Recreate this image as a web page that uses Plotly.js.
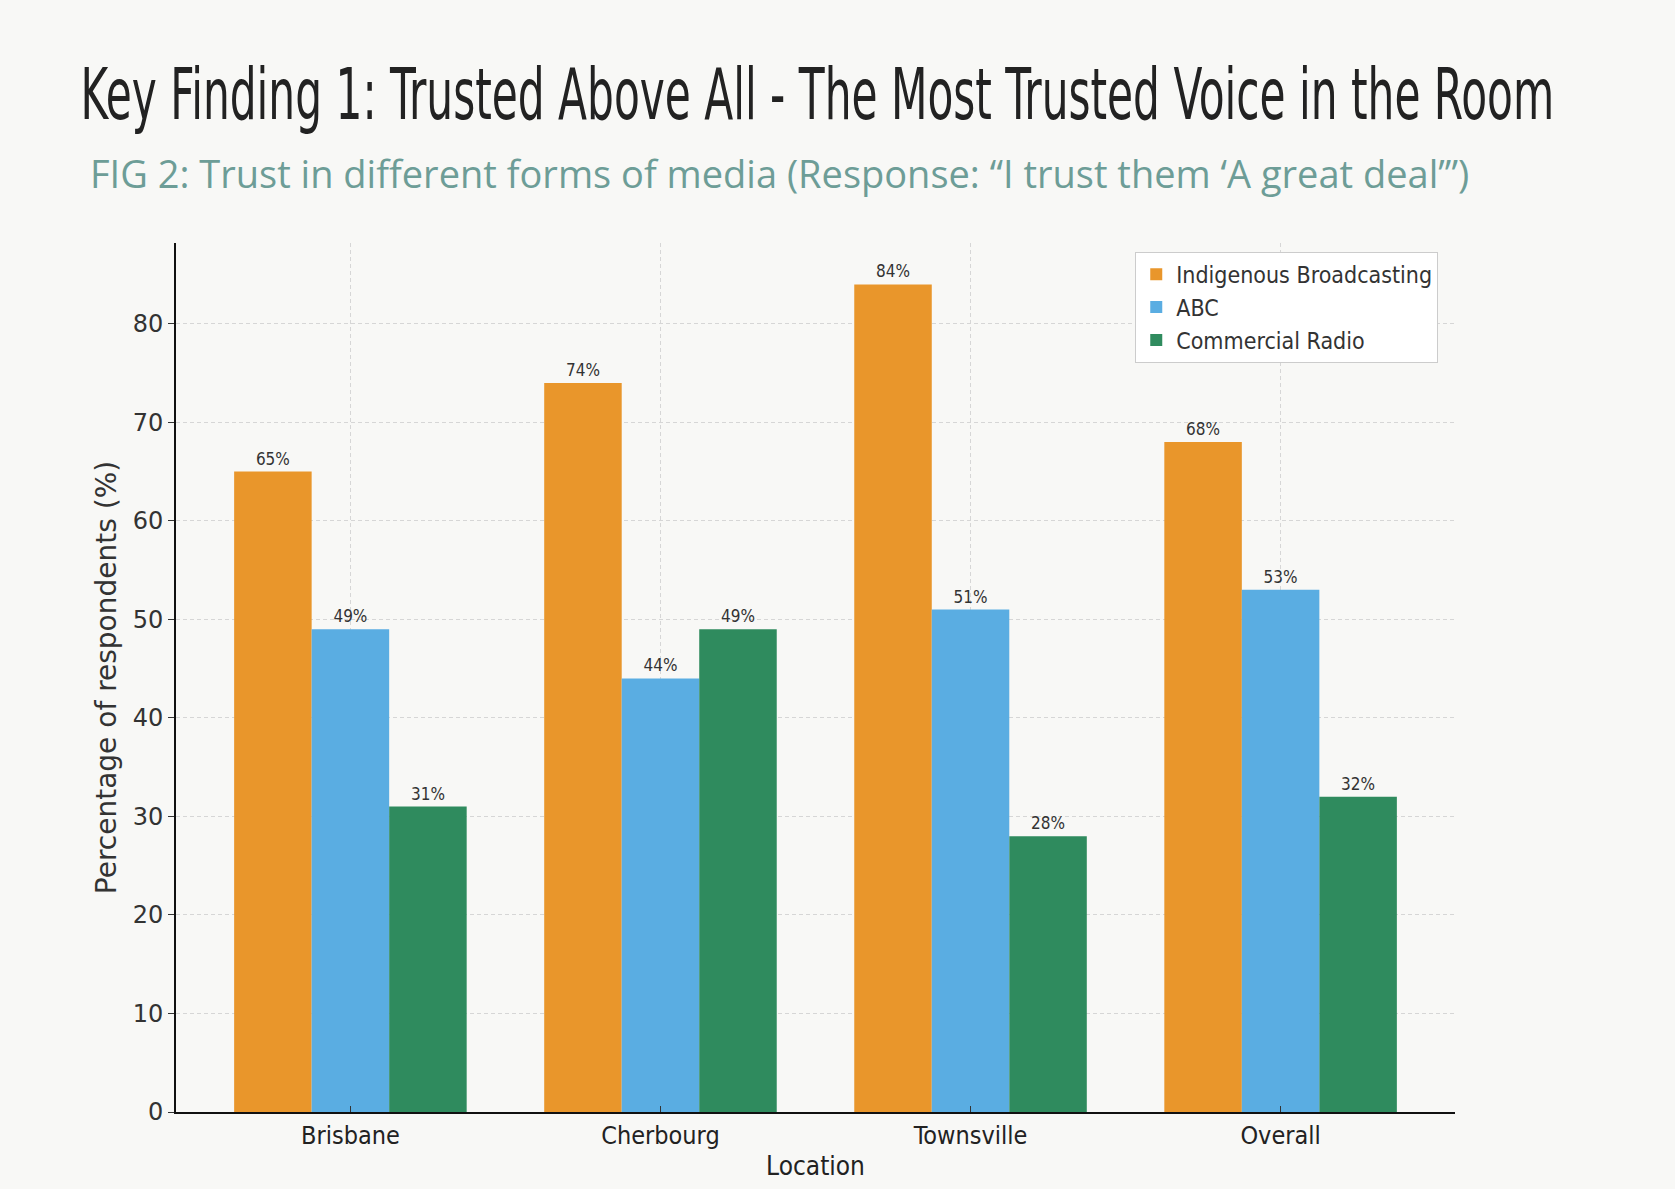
<!DOCTYPE html>
<html>
<head>
<meta charset="utf-8">
<script src="https://cdn.plot.ly/plotly-3.0.1.min.js"></script>
<style>
  html, body { margin: 0; padding: 0; background: #f8f8f6; }
  #chart { width: 1675px; height: 1189px; }
</style>
</head>
<body>
<div id="chart"></div>
<script>
// values
const locations = ["Brisbane", "Cherbourg", "Townsville", "Overall"];
const indigenous = [65, 74, 84, 68];
const abc = [49, 44, 51, 53];
const commercial = [31, 49, 28, 32];
const yTicks = [0, 10, 20, 30, 40, 50, 60, 70, 80];

const labelFont = { family: "DejaVu Sans Condensed, DejaVu Sans", size: 17, color: "#333" };

function series(name, values, color) {
  return {
    type: "bar",
    name: name,
    x: locations,
    y: values,
    marker: { color: color },
    text: values.map(v => v + "%"),
    textposition: "outside",
    textfont: labelFont,
    cliponaxis: false,
    hoverinfo: "skip"
  };
}

const traces = [
  series("Indigenous Broadcasting", indigenous, "#e9962b"),
  series("ABC", abc, "#5aade2"),
  series("Commercial Radio", commercial, "#2f8b5e")
];

const layout = {
  width: 1675,
  height: 1189,
  paper_bgcolor: "#f8f8f6",
  plot_bgcolor: "#f8f8f6",
  margin: { l: 176, r: 220, t: 243, b: 77 },
  barmode: "group",
  bargap: 0.25,
  bargroupgap: 0,
  showlegend: true,
  title: {
    text: "Key Finding 1: Trusted Above All - The Most Trusted Voice in the Room",
    font: { family: "DejaVu Sans Condensed, DejaVu Sans", size: 72, color: "#222" },
    xref: "container", x: 0.048, xanchor: "left",
    yref: "container", y: 0.921, yanchor: "middle"
  },
  annotations: [{
    text: "FIG 2: Trust in different forms of media (Response: \u201cI trust them \u2018A great deal\u2019\u201d)",
    xref: "paper", yref: "paper",
    x: -0.069, y: 1.081, xanchor: "left", yanchor: "middle",
    showarrow: false,
    font: { family: "Open Sans", size: 38, color: "#6d9d97" }
  }],
  legend: {
    x: 0.75, y: 0.99, xanchor: "left", yanchor: "top",
    bgcolor: "#ffffff",
    bordercolor: "#cccccc",
    borderwidth: 1,
    font: { family: "DejaVu Sans Condensed, DejaVu Sans", size: 23, color: "#333" }
  },
  xaxis: {
    range: [-0.5625, 3.5625],
    showline: true, linecolor: "#111", linewidth: 2,
    ticks: "inside", ticklen: 6, tickcolor: "#333",
    showgrid: true, gridcolor: "#d6d6d6", griddash: "4px,3px", gridwidth: 1,
    tickfont: { family: "DejaVu Sans Condensed, DejaVu Sans", size: 25, color: "#222" },
    title: {
      text: "Location",
      font: { family: "DejaVu Sans Condensed, DejaVu Sans", size: 26, color: "#222" },
      standoff: 8
    }
  },
  yaxis: {
    range: [0, 88.2],
    tickvals: yTicks,
    showline: true, linecolor: "#111", linewidth: 2,
    ticks: "outside", ticklen: 6, tickcolor: "#333",
    showgrid: true, gridcolor: "#d6d6d6", griddash: "4px,3px", gridwidth: 1,
    zeroline: false,
    tickfont: { family: "DejaVu Sans", size: 24, color: "#333" },
    title: {
      text: "Percentage of respondents (%)",
      font: { family: "DejaVu Sans", size: 28, color: "#333" },
      standoff: 8
    }
  }
};

Plotly.newPlot("chart", traces, layout, { displayModeBar: false, staticPlot: true }).then(gd => {
  // the original title face is very narrow and tall: squeeze the text horizontally to the same width
  const t = gd.querySelector(".gtitle");
  if (!t) return;
  const box = t.getBBox();
  const target = 1474;
  const s = target / box.width;
  const x0 = box.x;
  t.setAttribute("transform", `translate(${x0},0) scale(${s},1) translate(${-x0},0)`);
});
</script>
</body>
</html>
